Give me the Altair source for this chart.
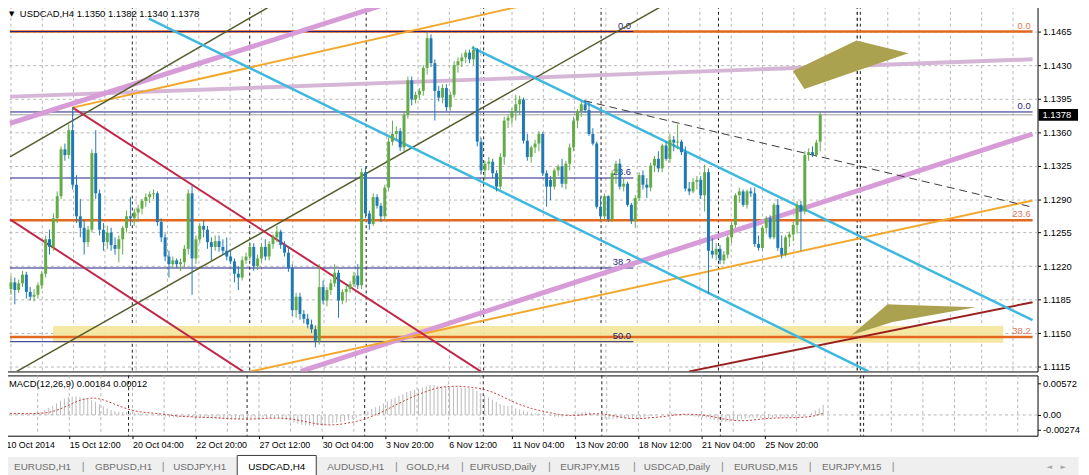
import json
import altair as alt
import pandas as pd

FONT = "Liberation Sans"

# ---------------- candle data (price x 10000) ----------------
opens = [
11196,11203,11195,11202,11211,11193,11188,11190,11200,11212,
11248,11240,11270,11293,11342,11336,11362,11305,11272,11260,
11245,11258,11338,11296,11258,11245,11255,11242,11238,11248,
11260,11272,11270,11276,11280,11288,11292,11295,11296,11266,
11250,11230,11222,11226,11222,11224,11238,11296,11228,11248,
11262,11258,11245,11240,11246,11240,11236,11230,11225,11212,
11208,11226,11230,11240,11220,11228,11240,11230,11243,11250,
11256,11242,11234,11218,11174,11188,11170,11165,11159,11154,
11142,11198,11184,11195,11202,11213,11184,11193,11196,11201,
11210,11200,11318,11275,11264,11292,11283,11272,11302,11350,
11358,11361,11344,11378,11414,11394,11399,11403,11427,11458,
11432,11403,11396,11406,11386,11399,11430,11434,11438,11443,
11436,11446,11350,11320,11327,11329,11317,11303,11334,11372,
11375,11382,11389,11394,11351,11334,11344,11348,11358,11317,
11310,11303,11320,11324,11306,11327,11344,11372,11382,11389,
11383,11358,11348,11282,11272,11293,11269,11317,11327,11303,
11306,11284,11267,11291,11315,11305,11302,11325,11332,11322,
11346,11332,11352,11349,11350,11339,11301,11298,11308,11310,
11294,11318,11236,11232,11238,11226,11232,11250,11263,11294,
11298,11284,11298,11296,11243,11239,11260,11270,11250,11284,
11239,11232,11250,11253,11263,11284,11277,11336,11339,11336,
11350]
highs = [
11210,11208,11206,11215,11214,11198,11196,11203,11215,11252,
11258,11275,11298,11345,11348,11368,11386,11315,11290,11268,
11262,11342,11362,11300,11265,11262,11260,11250,11252,11262,
11278,11292,11280,11284,11290,11296,11298,11300,11298,11270,
11254,11236,11230,11228,11228,11242,11300,11304,11252,11265,
11268,11262,11250,11252,11252,11248,11250,11236,11228,11220,
11230,11234,11245,11244,11232,11244,11248,11246,11253,11262,
11258,11246,11240,11222,11192,11192,11174,11170,11164,11158,
11222,11205,11198,11206,11222,11216,11196,11200,11204,11214,
11222,11322,11324,11278,11296,11295,11286,11305,11354,11372,
11366,11364,11382,11418,11418,11402,11406,11430,11465,11462,
11436,11408,11410,11410,11402,11434,11438,11442,11446,11446,
11450,11448,11354,11330,11334,11332,11320,11338,11376,11378,
11385,11399,11398,11396,11358,11346,11352,11361,11360,11320,
11314,11322,11326,11332,11330,11348,11376,11384,11392,11393,
11392,11364,11350,11292,11296,11294,11320,11330,11332,11312,
11308,11286,11294,11318,11320,11312,11328,11335,11340,11348,
11350,11358,11356,11368,11352,11345,11308,11312,11314,11314,
11326,11322,11249,11244,11242,11236,11252,11266,11296,11302,
11300,11300,11302,11302,11252,11262,11272,11273,11286,11290,
11252,11252,11256,11266,11288,11288,11340,11343,11345,11352,
11382]
lows = [
11190,11180,11192,11198,11186,11184,11183,11186,11196,11208,
11232,11236,11265,11290,11330,11332,11300,11265,11250,11232,
11240,11255,11290,11252,11236,11238,11236,11232,11224,11232,
11255,11262,11262,11266,11274,11282,11286,11290,11262,11245,
11225,11208,11218,11218,11215,11218,11232,11190,11222,11244,
11250,11238,11226,11236,11235,11232,11226,11222,11203,11195,
11205,11222,11226,11215,11216,11224,11226,11226,11238,11245,
11238,11230,11214,11168,11166,11164,11160,11155,11150,11135,
11138,11180,11178,11190,11198,11166,11180,11182,11192,11198,
11196,11196,11270,11258,11262,11280,11266,11268,11298,11346,
11352,11340,11340,11374,11388,11390,11394,11398,11420,11428,
11372,11392,11390,11382,11382,11396,11422,11428,11432,11432,
11430,11345,11316,11310,11320,11312,11298,11300,11326,11364,
11368,11372,11378,11348,11330,11328,11338,11340,11314,11282,
11289,11300,11314,11302,11300,11320,11340,11364,11376,11380,
11356,11346,11280,11268,11268,11266,11266,11306,11300,11298,
11282,11264,11260,11288,11300,11291,11298,11318,11318,11318,
11330,11328,11340,11342,11336,11298,11294,11296,11300,11290,
11277,11191,11228,11226,11222,11222,11228,11244,11260,11286,
11282,11280,11292,11240,11236,11236,11254,11248,11248,11236,
11228,11230,11240,11246,11254,11236,11274,11330,11334,11334,
11340]
closes = [
11203,11195,11202,11211,11193,11188,11190,11200,11212,11248,
11240,11270,11293,11342,11336,11362,11305,11272,11260,11245,
11258,11338,11296,11258,11245,11255,11242,11238,11248,11260,
11272,11270,11276,11280,11288,11292,11295,11296,11266,11250,
11230,11222,11226,11222,11224,11238,11296,11228,11248,11262,
11258,11245,11240,11246,11240,11236,11230,11225,11212,11208,
11226,11230,11240,11220,11228,11240,11230,11243,11250,11256,
11242,11234,11218,11174,11188,11170,11165,11159,11154,11142,
11198,11184,11195,11202,11213,11184,11193,11196,11201,11210,
11200,11318,11275,11264,11292,11283,11272,11302,11350,11358,
11361,11344,11378,11414,11394,11399,11403,11427,11458,11432,
11403,11396,11406,11386,11399,11430,11434,11438,11443,11436,
11446,11350,11320,11327,11329,11317,11303,11334,11372,11375,
11382,11389,11394,11351,11334,11344,11348,11358,11317,11303,
11303,11320,11324,11306,11327,11344,11372,11382,11389,11383,
11358,11348,11282,11272,11293,11269,11317,11327,11303,11306,
11284,11267,11291,11315,11305,11302,11325,11332,11322,11346,
11332,11352,11349,11350,11339,11301,11298,11308,11310,11294,
11318,11236,11232,11238,11226,11232,11250,11263,11294,11298,
11284,11298,11296,11243,11239,11260,11270,11250,11284,11239,
11232,11250,11253,11263,11284,11277,11336,11339,11336,11349,
11378]

# MACD main line (x 1e-5)
macd_main = [
30,30,25,25,20,20,25,30,40,60,
90,130,170,210,260,300,330,340,340,
330,310,300,270,240,200,160,120,90,
70,60,50,50,45,40,35,30,20,10,0,-10,-20,-30,-40,-50,-50,-40,
-20,-30,-40,-50,-55,-60,-60,-65,-70,-75,-80,-80,-85,-80,-75,
-70,-65,-60,-55,-50,-50,-55,-60,-65,-70,-80,-95,
-120,-140,-160,-180,-190,-200,-210,-190,
-180,-170,-160,-150,-140,-130,-110,-90,-70,-50,
-10,40,70,110,140,170,210,250,290,320,
350,380,420,440,460,480,500,530,550,550,
540,530,520,510,510,505,500,495,490,485,440,
400,360,320,280,240,200,180,160,140,120,100,80,60,40,
30,30,20,0,-20,-30,-30,-30,-20,0,20,40,50,60,50,20,-20,
-50,-70,-80,-80,-70,-60,-60,-60,-65,-60,-50,-40,-30,-20,-10,0,10,20,
30,30,20,20,0,-20,-30,-40,-40,-50,-80,-100,-120,-130,-130,
-120,-110,-90,-80,-70,-60,-50,-50,-60,-60,-55,-50,-45,-50,-50,
-45,-40,-35,-30,-25,0,40,80,120,184]
macd_header = (0.00184, 0.00012)

assert len(opens) == len(highs) == len(lows) == len(closes) == len(macd_main), (
    len(opens), len(highs), len(lows), len(closes), len(macd_main))

# ---------------- axes / levels ----------------
price_ticks = [1.1465, 1.1430, 1.1395, 1.1360, 1.1325, 1.1290, 1.1255,
               1.1220, 1.1185, 1.1150, 1.1115]
time_labels = ["10 Oct 2014", "15 Oct 12:00", "20 Oct 04:00", "22 Oct 20:00",
               "27 Oct 12:00", "30 Oct 04:00", "3 Nov 20:00", "6 Nov 12:00",
               "11 Nov 04:00", "13 Nov 20:00", "18 Nov 12:00", "21 Nov 04:00",
               "25 Nov 20:00"]
time_tick_bars = [0.0, 16.25, 32.5, 48.76, 65.01, 81.26, 97.51, 113.76,
                  130.02, 146.27, 162.52, 178.77, 195.02]
macd_ticks = [0.00572, 0.0, -0.00274]
macd_tick_labels = ["0.00572", "0.00", "-0.00274"]
week_separator_bars = [31.49, 61.96, 92.18, 122.66, 153.13, 183.6, 219.65, 220.41]
grid_bars = [round(k * 32 / 3.938, 2) for k in range(33)]

fib_navy_levels = [1.1465, 1.1312, 1.1218, 1.1141]
fib_navy_names = ["0.0", "23.6", "38.2", "50.0"]
fib_navy_end = 161.5
fib_navy2_level = 1.1381
fib_orange_levels = [1.1465, 1.12678, 1.11458]
fib_orange_names = ["0.0", "23.6", "38.2"]
bid_price = 1.1378
zone_bars = [10.92, 257.5]
zone_prices = [1.11398, 1.11574]

trend_lines = {
    "lilac":   [(-0.254, 1.1397, 265.11, 1.1436)],
    "plum":    [(-0.254, 1.1369, 96.0, 1.1492), (75.2, 1.1110, 265.11, 1.1358)],
    "orange":  [(16.0, 1.13855, 132.8, 1.1492), (62.2, 1.1110, 265.11, 1.12885)],
    "olive":   [(-0.254, 1.1334, 67.5, 1.1492), (1.52, 1.1110, 169.1, 1.1492)],
    "crimson": [(16.0, 1.13855, 121.9, 1.1110), (-0.254, 1.12688, 60.18, 1.1110)],
    "darkred": [(176.0, 1.1110, 265.11, 1.11822)],
    "cyan":    [(35.8, 1.14784, 222.5, 1.1110), (119.6, 1.14485, 265.11, 1.11635)],
    "dashed":  [(148.8, 1.13927, 264.3, 1.12823)],
}
trend_styles = {
    "lilac":   dict(color="#d6b6d6", strokeWidth=4),
    "plum":    dict(color="#d79bd7", strokeWidth=5),
    "orange":  dict(color="#f1a82c", strokeWidth=2),
    "olive":   dict(color="#545d2b", strokeWidth=1.5),
    "crimson": dict(color="#c22749", strokeWidth=2),
    "darkred": dict(color="#9a2020", strokeWidth=2),
    "cyan":    dict(color="#3db8de", strokeWidth=2.5),
    "dashed":  dict(color="#3a3a3a", strokeWidth=1, strokeDash=[8, 5]),
}
khaki_top = dict(bar=[202.9, 205.9, 219.4, 232.9],
                 top=[1.14237, 1.14296, 1.14557, 1.14423],
                 bot=[1.14237, 1.14051, 1.14237, 1.14423])
khaki_bottom = dict(bar=[218.1, 227.5, 228.8, 250.4],
                    top=[1.11481, 1.11801, 1.11799, 1.11770],
                    bot=[1.11481, 1.11599, 1.11615, 1.11770])

tabs = ["EURUSD,H1", "GBPUSD,H1", "USDJPY,H1", "USDCAD,H4", "AUDUSD,H1", "GOLD,H4",
        "EURUSD,Daily", "EURJPY,M15", "USDCAD,Daily", "EURUSD,M15", "EURJPY,M15"]
tab_centers = [38, 120, 197, 275, 355, 428, 504, 592, 680, 770, 857]
tab_separators = [79, 160, 396, 463, 551, 637, 726, 815, 899]
active_tab = "USDCAD,H4"

# ---------------- styles / scales ----------------
BULL = "#62ab46"
BEAR = "#1f79b5"
NAVY = "#1c1c82"
FIBO = "#e2691f"
GRID = "#b4b4b4"

XDOM = [-0.254, 265.11]
YDOM = [1.11099, 1.14918]
MDOM = [-0.00381, 0.00726]
XS = alt.Scale(domain=XDOM, nice=False, zero=False)
YS = alt.Scale(domain=YDOM, nice=False, zero=False)
MS = alt.Scale(domain=MDOM, nice=False, zero=False)

price_axis = alt.Axis(orient="right", values=price_ticks, format=".4f", grid=True,
                      gridDash=[3, 3], gridColor=GRID, domain=False, ticks=True,
                      tickSize=3, tickColor="black", labelPadding=2, labelFontSize=9.5,
                      labelColor="black", labelFont=FONT, title=None,
                      labelOverlap=False, labelFlush=False)
time_axis = alt.Axis(orient="bottom", values=time_tick_bars,
                     labelExpr=f"{json.dumps(time_labels)}[indexof({json.dumps(time_tick_bars)}, datum.value)]",
                     grid=False, domain=False, ticks=True, tickSize=3, tickColor="black",
                     labelAlign="left", labelBaseline="top", labelPadding=2,
                     labelFontSize=9, labelColor="black", labelFont=FONT,
                     labelFlush=False, labelOverlap=False, minExtent=16, maxExtent=16,
                     title=None)
macd_axis = alt.Axis(orient="right", values=macd_ticks,
                     labelExpr=f"{json.dumps(macd_tick_labels)}[indexof({json.dumps(macd_ticks)}, datum.value)]",
                     grid=False, domain=False, ticks=True, tickSize=3, tickColor="black",
                     labelPadding=2, labelFontSize=9.5, labelColor="black", labelFont=FONT,
                     labelOverlap=False, labelFlush=False, title=None)


def xm(f):
    return alt.X(f"{f}:Q", scale=XS, axis=None, title=None)


def ym(f):
    return alt.Y(f"{f}:Q", scale=YS, axis=price_axis, title=None)


def xt(f):
    return alt.X(f"{f}:Q", scale=XS, axis=time_axis, title=None)


def ymacd(f):
    return alt.Y(f"{f}:Q", scale=MS, axis=macd_axis, title=None)


# ---------------- data frames ----------------
n = len(closes)
cdf = pd.DataFrame({
    "bar": list(range(n)),
    "open": [v / 1e4 for v in opens],
    "high": [v / 1e4 for v in highs],
    "low": [v / 1e4 for v in lows],
    "close": [v / 1e4 for v in closes],
    "macd": [v / 1e5 for v in macd_main],
})
cdf["signal"] = cdf["macd"].rolling(9, min_periods=1).mean()

grid_df = pd.DataFrame({"bar": grid_bars})
sep_df = pd.DataFrame({"bar": week_separator_bars})

# ---------------- main panel ----------------
vgrid = alt.Chart(grid_df).mark_rule(color=GRID, strokeDash=[3, 3], strokeWidth=1).encode(x=xm("bar"))
seps = alt.Chart(sep_df).mark_rule(color="#1a1a1a", strokeDash=[3, 3], strokeWidth=1).encode(x=xm("bar"))

zone = alt.Chart(pd.DataFrame({"b1": [zone_bars[0]], "b2": [zone_bars[1]],
                               "p1": [zone_prices[0]], "p2": [zone_prices[1]]})
                 ).mark_rect(color="#f3e79f", opacity=0.95).encode(
    x=xm("b1"), x2="b2:Q", y=ym("p1"), y2="p2:Q")

orange_fib_df = pd.DataFrame({"b1": XDOM[0], "b2": XDOM[1], "p": fib_orange_levels,
                              "name": fib_orange_names, "lb": 264.6})
navy_fib_df = pd.DataFrame({"b1": XDOM[0], "b2": fib_navy_end, "p": fib_navy_levels,
                            "name": fib_navy_names, "lb": fib_navy_end - 0.6})
navy2_df = pd.DataFrame({"b1": [XDOM[0]], "b2": [XDOM[1]], "p": [fib_navy2_level],
                         "name": ["0.0"], "lb": [264.6]})
bid_df = pd.DataFrame({"b1": [XDOM[0]], "b2": [XDOM[1]], "p": [bid_price]})

orange_fib = alt.Chart(orange_fib_df).mark_rule(color=FIBO, strokeWidth=2.5).encode(
    x=xm("b1"), x2="b2:Q", y=ym("p"))
bid_line = alt.Chart(bid_df).mark_rule(color="#9c9c9c", strokeWidth=1).encode(
    x=xm("b1"), x2="b2:Q", y=ym("p"))
navy_fib = alt.Chart(navy_fib_df).mark_rule(color=NAVY, strokeWidth=1).encode(
    x=xm("b1"), x2="b2:Q", y=ym("p"))
navy2 = alt.Chart(navy2_df).mark_rule(color=NAVY, strokeWidth=1).encode(
    x=xm("b1"), x2="b2:Q", y=ym("p"))

fib_text_kw = dict(align="right", baseline="bottom", dy=-1, fontSize=9.5, font=FONT)
orange_lbl = alt.Chart(orange_fib_df).mark_text(color="#e07656", **fib_text_kw).encode(
    x=xm("lb"), y=ym("p"), text="name:N")
navy_lbl = alt.Chart(pd.concat([navy_fib_df, navy2_df])).mark_text(color=NAVY, **fib_text_kw).encode(
    x=xm("lb"), y=ym("p"), text="name:N")

trend_layers = []
for name, segs in trend_lines.items():
    tdf = pd.DataFrame(segs, columns=["b1", "p1", "b2", "p2"])
    trend_layers.append(
        alt.Chart(tdf).mark_rule(clip=True, **trend_styles[name]).encode(
            x=xm("b1"), x2="b2:Q", y=ym("p1"), y2="p2:Q"))

khaki1 = alt.Chart(pd.DataFrame(khaki_top)).mark_area(color="#aaa24f", clip=True).encode(
    x=xm("bar"), y=ym("top"), y2="bot:Q")
khaki2 = alt.Chart(pd.DataFrame(khaki_bottom)).mark_area(color="#aaa24f", clip=True).encode(
    x=xm("bar"), y=ym("top"), y2="bot:Q")

candle_color = alt.condition("datum.close >= datum.open", alt.value(BULL), alt.value(BEAR))
wicks = alt.Chart(cdf).mark_rule(strokeWidth=1).encode(
    x=xm("bar"), y=ym("low"), y2="high:Q", color=candle_color)
bodies = alt.Chart(cdf).mark_bar(size=3).encode(
    x=xm("bar"), y=ym("open"), y2="close:Q", color=candle_color)

last = cdf.iloc[-1]
header = f"USDCAD,H4  {last.open:.4f} {last.high:.4f} {last.low:.4f} {last.close:.4f}"
title_txt = alt.Chart(pd.DataFrame({"t": [header]})).mark_text(
    align="left", baseline="middle", fontSize=9.5, font=FONT, color="black").encode(
    text="t:N", x=alt.value(15), y=alt.value(8))
tri_txt = alt.Chart(pd.DataFrame({"t": ["▼"]})).mark_text(
    align="left", baseline="middle", fontSize=7, font="DejaVu Sans", color="black").encode(
    text="t:N", x=alt.value(4), y=alt.value(8))

box_df = pd.DataFrame({"p": [bid_price], "label": [f"{bid_price:.4f}"]})
box_df["phi"] = box_df["p"] + 0.00062
box_df["plo"] = box_df["p"] - 0.00062
price_box = alt.Chart(box_df).mark_rect(color="black", clip=False).encode(
    x=alt.value(1046), x2=alt.value(1086), y=ym("phi"), y2="plo:Q")
price_box_txt = alt.Chart(box_df).mark_text(
    align="left", baseline="middle", color="white", fontSize=9.5, font=FONT).encode(
    x=alt.value(1050), y=ym("p"), text="label:N")

main = alt.layer(
    vgrid, seps, zone, orange_fib, bid_line, navy_fib, navy2, orange_lbl, navy_lbl,
    *trend_layers, khaki1, khaki2, wicks, bodies, title_txt, tri_txt, price_box, price_box_txt
).properties(width=1045, height=370,
             view=alt.ViewBackground(fill="white", stroke="black", strokeWidth=1))

# ---------------- MACD panel ----------------
vgrid2 = alt.Chart(grid_df).mark_rule(color=GRID, strokeDash=[3, 3], strokeWidth=1).encode(x=xt("bar"))
seps2 = alt.Chart(sep_df).mark_rule(color="#1a1a1a", strokeDash=[3, 3], strokeWidth=1).encode(x=xt("bar"))
zero_line = alt.Chart(pd.DataFrame({"z": [0.0]})).mark_rule(
    color=GRID, strokeDash=[3, 3]).encode(y=ymacd("z"))
hist = alt.Chart(cdf).mark_rule(color="#b9b9b9", strokeWidth=1).encode(
    x=xt("bar"), y=ymacd("macd"), y2=alt.datum(0))
signal = alt.Chart(cdf).mark_line(color="#c43a3a", strokeDash=[2, 2], strokeWidth=1).encode(
    x=xt("bar"), y=ymacd("signal"))
macd_txt = alt.Chart(pd.DataFrame({"t": [f"MACD(12,26,9) {macd_header[0]:.5f} {macd_header[1]:.5f}"]})).mark_text(
    align="left", baseline="middle", fontSize=9.5, font=FONT, color="black").encode(
    text="t:N", x=alt.value(4), y=alt.value(9))

macd = alt.layer(vgrid2, seps2, zero_line, hist, signal, macd_txt).properties(
    width=1045, height=61,
    view=alt.ViewBackground(fill="white", stroke="black", strokeWidth=1))

# ---------------- tab bar ----------------
TS = alt.Scale(domain=[0, 1086], nice=False, zero=False)
tab_df = pd.DataFrame({"name": tabs, "x": tab_centers,
                       "active": [t == active_tab for t in tabs]})
tab_df.loc[tab_df["name"] == active_tab, "x2"] = None
active_idx = tabs.index(active_tab)
act_df = pd.DataFrame({"x1": [tab_centers[active_idx] - 40], "x2": [tab_centers[active_idx] + 40]})

active_rect = alt.Chart(act_df).mark_rect(fill="white", stroke="#3a3a3a", strokeWidth=1).encode(
    x=alt.X("x1:Q", scale=TS, axis=None), x2="x2:Q", y=alt.value(-1), y2=alt.value(23))
tab_text = alt.Chart(tab_df).mark_text(fontSize=10, font=FONT, baseline="middle").encode(
    x=alt.X("x:Q", scale=TS, axis=None), y=alt.value(11), text="name:N",
    color=alt.condition("datum.active", alt.value("black"), alt.value("#6e6e6e")))
sep_text = alt.Chart(pd.DataFrame({"x": tab_separators, "t": "|"})).mark_text(
    fontSize=11, font=FONT, baseline="middle", color="#8a8a8a").encode(
    x=alt.X("x:Q", scale=TS, axis=None), y=alt.value(11), text="t:N")
arrows = alt.Chart(pd.DataFrame({"x": [1057, 1071], "t": ["◄", "►"]})).mark_text(
    fontSize=7, font="DejaVu Sans", baseline="middle", color="#a8a8a8").encode(
    x=alt.X("x:Q", scale=TS, axis=None), y=alt.value(11), text="t:N")

tabbar = alt.layer(active_rect, tab_text, sep_text, arrows).properties(
    width=1086, height=22,
    view=alt.ViewBackground(fill="#efefef", stroke="transparent"))

chart = alt.vconcat(main, macd, tabbar, spacing=2).properties(
    padding={"left": -5, "top": -6, "right": 0, "bottom": 0}
).configure(background="white", font=FONT)

chart.save("out.html", embed_options={"renderer": "svg", "actions": False})
